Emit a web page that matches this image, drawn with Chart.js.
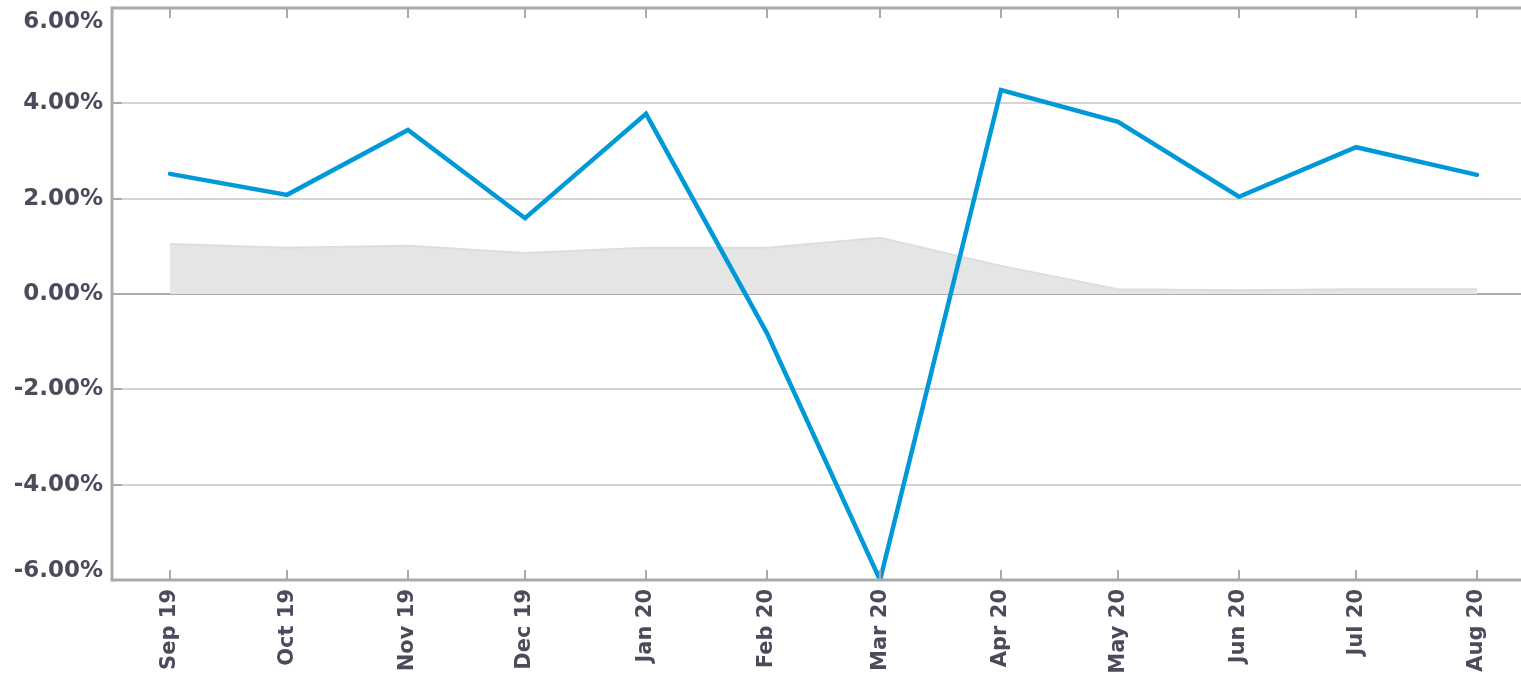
<!DOCTYPE html>
<html>
<head>
<meta charset="utf-8">
<script src="https://cdn.jsdelivr.net/npm/chart.js@4.4.1/dist/chart.umd.min.js"></script>
<style>
  html, body { margin: 0; padding: 0; background: #fff; }
  #wrap { width: 1521px; height: 678px; position: relative; }
</style>
</head>
<body>
<div id="wrap"><canvas id="chart"></canvas></div>
<script>
// month starts and axis labels
const months = ['2019-09-01', '2019-10-01', '2019-11-01', '2019-12-01', '2020-01-01', '2020-02-01',
                '2020-03-01', '2020-04-01', '2020-05-01', '2020-06-01', '2020-07-01', '2020-08-01'];
const monthLabels = ['Sep 19', 'Oct 19', 'Nov 19', 'Dec 19', 'Jan 20', 'Feb 20',
                     'Mar 20', 'Apr 20', 'May 20', 'Jun 20', 'Jul 20', 'Aug 20'];

// series values (%)
const returnValues = [2.52, 2.08, 3.44, 1.59, 3.78, -0.82, -6.0, 4.28, 3.61, 2.04, 3.08, 2.50];
const benchmarkValues = [1.05, 0.97, 1.01, 0.86, 0.97, 0.97, 1.18, 0.59, 0.10, 0.08, 0.10, 0.10];

// y tick values (%)
const yTicks = [-6, -4, -2, 0, 2, 4, 6];

// days since first month, so spacing follows month lengths
const start = Date.parse(months[0]);
const dayPos = months.map(m => Math.round((Date.parse(m) - start) / 86400000));

const AXIS = '#aaaaaa';
const TEXT = '#4b4b5b';

function line(ctx, x1, y1, x2, y2) {
    ctx.beginPath();
    ctx.moveTo(x1, y1);
    ctx.lineTo(x2, y2);
    ctx.stroke();
}

// frame, inner tick marks and clamped y labels
const framePlugin = {
    id: 'frame',
    afterDraw(chart) {
        const ctx = chart.ctx;
        const a = chart.chartArea;
        const x = chart.scales.x;
        const y = chart.scales.y;
        ctx.save();
        ctx.strokeStyle = AXIS;
        ctx.lineWidth = 2;
        x.ticks.forEach(t => {
            const px = Math.round(x.getPixelForValue(t.value));
            line(ctx, px, a.top, px, a.top + 10);
            line(ctx, px, a.bottom, px, a.bottom - 10);
        });
        y.ticks.forEach(t => {
            const py = Math.round(y.getPixelForValue(t.value));
            line(ctx, a.left, py, a.left + 10, py);
        });
        ctx.lineWidth = 3;
        line(ctx, a.left, a.top, a.right, a.top);
        line(ctx, a.left, a.top - 1.5, a.left, a.bottom + 1.5);
        line(ctx, a.left, a.bottom, a.right, a.bottom);

        ctx.font = 'bold 23px "DejaVu Sans"';
        ctx.fillStyle = TEXT;
        ctx.textAlign = 'right';
        ctx.textBaseline = 'middle';
        y.ticks.forEach(t => {
            let py = y.getPixelForValue(t.value);
            py = Math.min(Math.max(py, a.top + 14), a.bottom - 9);
            ctx.fillText(t.value.toFixed(2) + '%', a.left - 9, py);
        });
        ctx.restore();
    }
};

const ctx = document.getElementById('chart').getContext('2d');
const chart = new Chart(ctx, {
    type: 'line',
    data: {
        datasets: [{
            label: 'Return',
            data: dayPos.map((d, i) => ({ x: d, y: returnValues[i] })),
            borderColor: '#0099d8',
            borderWidth: 4.5,
            borderCapStyle: 'round',
            pointRadius: 0,
            fill: false,
            tension: 0
        }, {
            label: 'Benchmark',
            data: dayPos.map((d, i) => ({ x: d, y: benchmarkValues[i] })),
            borderColor: '#dddddd',
            borderWidth: 2,
            backgroundColor: '#e5e5e5',
            pointRadius: 0,
            fill: 'origin',
            tension: 0
        }]
    },
    options: {
        responsive: true,
        maintainAspectRatio: false,
        animation: false,
        layout: { padding: { top: 8, right: 0, bottom: 0, left: 0 } },
        plugins: {
            legend: { display: false },
            tooltip: { enabled: false }
        },
        scales: {
            x: {
                type: 'linear',
                min: -14.87,
                max: 346.28,
                afterBuildTicks: scale => {
                    scale.ticks = dayPos.map(v => ({ value: v }));
                },
                afterFit: scale => { scale.height = 98; },
                grid: { display: false, drawTicks: false },
                border: { display: false },
                ticks: {
                    autoSkip: false,
                    minRotation: 90,
                    maxRotation: 90,
                    padding: 9,
                    color: TEXT,
                    font: { family: 'DejaVu Sans', size: 21, weight: 'bold' },
                    callback: (v, i) => monthLabels[i]
                }
            },
            y: {
                min: -6,
                max: 6,
                afterBuildTicks: scale => {
                    scale.ticks = yTicks.map(v => ({ value: v }));
                },
                afterFit: scale => { scale.width = 112; },
                border: { display: false },
                grid: {
                    drawTicks: false,
                    lineWidth: 2,
                    color: c => (c.tick && c.tick.value === 0) ? AXIS : '#d4d4d4'
                },
                ticks: { display: false }
            }
        }
    },
    plugins: [framePlugin]
});
</script>
</body>
</html>
